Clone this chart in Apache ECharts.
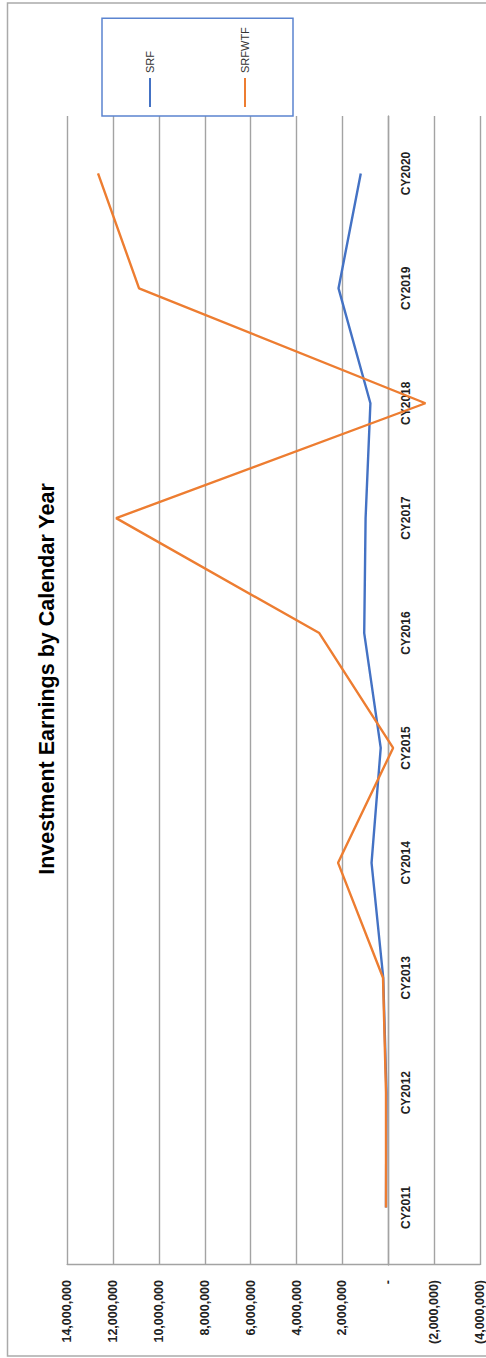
<!DOCTYPE html>
<html>
<head>
<meta charset="utf-8">
<script src="https://cdn.jsdelivr.net/npm/echarts@6/dist/echarts.min.js"></script>
<style>
  html, body { margin: 0; padding: 0; background: #fff; width: 486px; height: 1358px; overflow: hidden; }
  #chart { position: absolute; left: 0; top: 0; width: 1358px; height: 486px;
           transform-origin: 0 0; transform: translateY(1358px) rotate(-90deg); }
</style>
</head>
<body>
<div id="chart"></div>
<script>
const titleText = 'Investment Earnings by Calendar Year';
const categories = ['CY2011','CY2012','CY2013','CY2014','CY2015','CY2016','CY2017','CY2018','CY2019','CY2020'];
const srf    = [100000, 80000, 220000, 730000, 330000, 1050000, 990000, 780000, 2170000, 1200000];
const srfwtf = [100000, 100000, 230000, 2190000, -210000, 3010000, 11870000, -1620000, 10870000, 12660000];
const valueMin = -4000000;
const valueMax = 14000000;
const valueStep = 2000000;

function fmt(v) {
  if (v === 0) return '-';
  const s = Math.abs(v).toLocaleString('en-US');
  return v < 0 ? '(' + s + ')' : s;
}

const W = 1358, H = 486;
const gridTop = 67.3, gridBottom = 6;
const plotH = H - gridTop - gridBottom;
// place the category axis on the zero line of the value axis
const zeroOffset = -plotH * (0 - valueMin) / (valueMax - valueMin);

const chart = echarts.init(document.getElementById('chart'), null, { renderer: 'svg', width: W, height: H });
const grid = '#a3a3a3';
chart.setOption({
  backgroundColor: '#ffffff',
  animation: false,
  title: {
    text: titleText,
    left: 'center',
    top: 31,
    textStyle: { fontFamily: 'Liberation Sans', fontWeight: 'bold', fontSize: 21.5, color: '#000' }
  },
  legend: {
    orient: 'vertical',
    left: 1242,
    top: 102,
    padding: [41, 9, 41, 9],
    itemGap: 81,
    itemWidth: 29,
    itemHeight: 2,
    icon: 'rect',
    borderColor: '#5b84d0',
    borderWidth: 1.5,
    textStyle: { fontFamily: 'Liberation Sans', fontSize: 11, lineHeight: 14, color: '#333' },
    data: ['SRF', 'SRFWTF']
  },
  graphic: [{
    type: 'rect',
    shape: { x: 2, y: 7.5, width: 1353, height: 500 },
    style: { fill: 'none', stroke: '#aaaaaa', lineWidth: 1.5 },
    silent: true
  }],
  grid: { left: 93, right: 116, top: gridTop, bottom: gridBottom, containLabel: false, outerBoundsMode: 'none' },
  xAxis: {
    type: 'category',
    data: categories,
    boundaryGap: true,
    offset: zeroOffset,
    axisLine: { show: true, onZero: false, lineStyle: { color: grid, width: 1.4 } },
    axisTick: { show: false },
    axisLabel: { margin: 12, fontFamily: 'Liberation Sans', fontWeight: 'bold', fontSize: 12, color: '#222' },
    splitLine: { show: false }
  },
  yAxis: {
    type: 'value',
    min: valueMin,
    max: valueMax,
    interval: valueStep,
    axisLine: { show: true, lineStyle: { color: grid, width: 1.4 } },
    axisTick: { show: false },
    axisLabel: { margin: 15, formatter: fmt, fontFamily: 'Liberation Sans', fontWeight: 'bold', fontSize: 12.5, color: '#222' },
    splitLine: { show: true, lineStyle: { color: grid, width: 1.4 } }
  },
  series: [
    { name: 'SRF', type: 'line', data: srf, symbol: 'none', color: '#4472C4',
      lineStyle: { width: 2.4, color: '#4472C4' } },
    { name: 'SRFWTF', type: 'line', data: srfwtf, symbol: 'none', color: '#ED7D31',
      lineStyle: { width: 2.4, color: '#ED7D31' } }
  ]
});
</script>
</body>
</html>
